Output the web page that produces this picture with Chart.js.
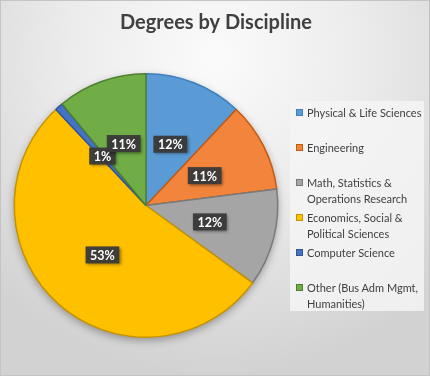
<!DOCTYPE html>
<html>
<head>
<meta charset="utf-8">
<script src="https://cdn.jsdelivr.net/npm/chart.js@4.4.0/dist/chart.umd.min.js"></script>
<style>
  html, body { margin: 0; padding: 0; }
  #wrap {
    position: relative; width: 428px; height: 374px;
    border: 1px solid #c4c4c4;
    background: radial-gradient(ellipse 75% 85% at 50% 15%, #fbfbfb 0%, #ececec 45%, #d2d2d2 100%);
    font-family: Lato, "Noto Sans", sans-serif;
  }
  #chart { position: absolute; left: 0; top: 0; }
  #legend {
    position: absolute; left: 289px; top: 100px; width: 134px; height: 210px;
    background: rgba(245,245,245,0.85);
    padding-top: 4px; box-sizing: border-box;
  }
  .item { position: relative; height: 35px; padding-left: 17px; font-size: 11px; line-height: 15.5px; color: #404040; }
  .item i { position: absolute; left: 6px; top: 4px; width: 7px; height: 7px; box-sizing: border-box; }
</style>
</head>
<body>
<div id="wrap">
  <canvas id="chart" width="428" height="374"></canvas>
  <div id="legend"></div>
</div>
<script>
document.addEventListener('DOMContentLoaded', function () {

    const chartTitle = 'Degrees by Discipline';
    const categories = [
        ['Physical & Life Sciences'],
        ['Engineering'],
        ['Math, Statistics &', 'Operations Research'],
        ['Economics, Social &', 'Political Sciences'],
        ['Computer Science'],
        ['Other (Bus Adm Mgmt,', 'Humanities)']
    ];
    const shares = [12, 11, 12, 53, 1, 11];
    const fills = ['#5b9bd5', '#f2853b', '#a5a5a5', '#ffc000', '#4472c4', '#70ad47'];
    const edges = ['#3f7fbf', '#c55a11', '#7a7a7a', '#c59300', '#2f5597', '#4f7f30'];

    // title centred on the whole canvas, not on the pie area
    const titlePlugin = {
        id: 'titlePlugin',
        afterDraw(chart) {
            const ctx = chart.ctx;
            ctx.save();
            ctx.font = 'bold 20px Lato, "Noto Sans", sans-serif';
            ctx.fillStyle = '#404040';
            ctx.textAlign = 'center';
            ctx.textBaseline = 'middle';
            ctx.fillText(chartTitle, chart.width / 2 + 1, 22);
            ctx.restore();
        }
    };

    // shadow under the whole pie
    const pieShadow = {
        id: 'pieShadow',
        beforeDatasetsDraw(chart) {
            const arc = chart.getDatasetMeta(0).data[0];
            if (!arc) return;
            const ctx = chart.ctx;
            ctx.save();
            ctx.shadowColor = 'rgba(0,0,0,0.35)';
            ctx.shadowBlur = 8;
            ctx.shadowOffsetY = 3;
            ctx.fillStyle = '#999';
            ctx.beginPath();
            ctx.arc(arc.x, arc.y, arc.outerRadius, 0, Math.PI * 2);
            ctx.fill();
            ctx.restore();
        }
    };

    // dark boxed percentage labels
    const boxLabels = {
        id: 'boxLabels',
        afterDatasetsDraw(chart) {
            const ctx = chart.ctx;
            const data = chart.data.datasets[0].data;
            const total = data.reduce((a, b) => a + b, 0);
            chart.getDatasetMeta(0).data.forEach(function (arc, i) {
                const p = arc.tooltipPosition();
                const txt = Math.round(data[i] / total * 100) + '%';
                ctx.save();
                ctx.font = 'bold 12.5px Lato, "Noto Sans", sans-serif';
                const w = ctx.measureText(txt).width + 9;
                const h = 17;
                ctx.shadowColor = 'rgba(0,0,0,0.45)';
                ctx.shadowBlur = 3;
                ctx.shadowOffsetX = 1.5;
                ctx.shadowOffsetY = 1.5;
                ctx.fillStyle = 'rgba(58,58,58,0.95)';
                ctx.fillRect(p.x - w / 2, p.y - h / 2, w, h);
                ctx.shadowColor = 'transparent';
                ctx.fillStyle = '#ffffff';
                ctx.textAlign = 'center';
                ctx.textBaseline = 'middle';
                ctx.fillText(txt, p.x, p.y + 1);
                ctx.restore();
            });
        }
    };

    const ctx = document.getElementById('chart').getContext('2d');
    const chart = new Chart(ctx, {
        type: 'pie',
        data: {
            labels: categories,
            datasets: [{
                data: shares,
                backgroundColor: fills,
                borderColor: edges,
                borderWidth: 1.5
            }]
        },
        options: {
            responsive: false,
            animation: false,
            layout: { padding: { left: 12, right: 150, top: 72, bottom: 37 } },
            plugins: {
                legend: { display: false },
                tooltip: { enabled: false },
                title: { display: false }
            }
        },
        plugins: [pieShadow, boxLabels, titlePlugin]
    });

    const legend = document.getElementById('legend');
    chart.data.labels.forEach(function (lines, i) {
        const item = document.createElement('div');
        item.className = 'item';
        const box = document.createElement('i');
        box.style.background = fills[i];
        box.style.border = '1px solid ' + edges[i];
        item.appendChild(box);
        item.insertAdjacentHTML('beforeend', lines.join('<br>'));
        legend.appendChild(item);
    });
});
</script>
</body>
</html>
